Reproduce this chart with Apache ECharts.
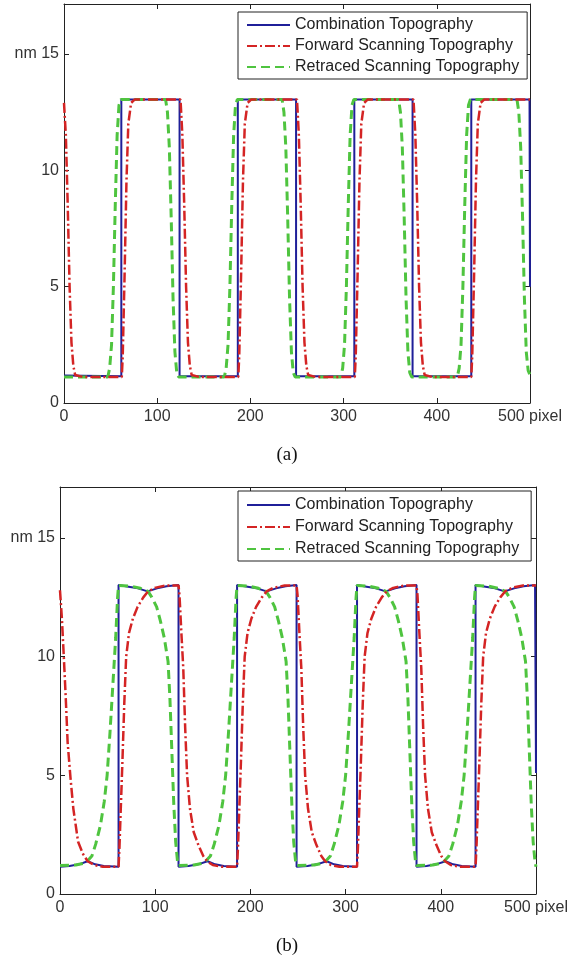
<!DOCTYPE html>
<html>
<head>
    <meta charset="utf-8">
    <title>Topography</title>
    <script src="https://cdn.jsdelivr.net/npm/echarts@6.0.0/dist/echarts.min.js"></script>
    <style>
        body { margin: 0; background: #fff; }
        #chart { width: 574px; height: 959px; }
    </style>
</head>
<body>
<div id="chart"></div>
<script type="text/javascript">
    // series names and tick labels
    var names = ['Combination Topography', 'Forward Scanning Topography', 'Retraced Scanning Topography'];
    var xTicks = [0, 100, 200, 300, 400, 500];
    var xTickText = ['0', '100', '200', '300', '400', '500 pixel'];
    var yTicks = [0, 5, 10, 15];
    var yTickText = ['0', '5', '10', 'nm 15'];

    // (a) [pixel, nm]
    var combA = [[0,1.18],[61.5,1.15],[61.5,13.05],[124,13.05],[124,1.15],[186.5,1.15],[186.5,13.05],[249,13.05],[249,1.15],
        [311.5,1.15],[311.5,13.05],[374,13.05],[374,1.15],[437,1.15],[437,13.05],[499.5,13.05],[500,5.0]];
    var fwdA = [[0,12.9],[2,11.5],[4,8.5],[6,5.0],[8,2.6],[10,1.6],[12,1.2],[20,1.12],
        [62,1.12],[63,2.0],[65,5.5],[67,9.5],[69,12.0],[72,12.9],[76,13.05],
        [125,13.05],[127,11.5],[129,8.5],[131,5.0],[133,2.6],[135,1.6],[137,1.2],[145,1.12],
        [187,1.12],[188,2.0],[190,5.5],[192,9.5],[194,12.0],[197,12.9],[201,13.05],
        [250,13.05],[252,11.5],[254,8.5],[256,5.0],[258,2.6],[260,1.6],[262,1.2],[270,1.12],
        [312,1.12],[313,2.0],[315,5.5],[317,9.5],[319,12.0],[322,12.9],[326,13.05],
        [375,13.05],[377,11.5],[379,8.5],[381,5.0],[383,2.6],[385,1.6],[387,1.2],[395,1.12],
        [437,1.12],[438,2.0],[440,5.5],[442,9.5],[444,12.0],[447,12.9],[451,13.05],[500,13.05]];
    var retA = [[0,1.12],[47,1.12],[49,1.5],[51,2.5],[53,5.0],[55,8.5],[57,11.5],[59,12.8],[61,13.05],
        [109,13.05],[111,12.5],[113,11.0],[115,8.0],[117,4.5],[119,2.2],[121,1.3],[123,1.12],
        [172,1.12],[174,1.5],[176,2.5],[178,5.0],[180,8.5],[182,11.5],[184,12.8],[186,13.05],
        [234,13.05],[236,12.5],[238,11.0],[240,8.0],[242,4.5],[244,2.2],[246,1.3],[248,1.12],
        [297,1.12],[299,1.5],[301,2.5],[303,5.0],[305,8.5],[307,11.5],[309,12.8],[311,13.05],
        [359,13.05],[361,12.5],[363,11.0],[365,8.0],[367,4.5],[369,2.2],[371,1.3],[373,1.12],
        [422,1.12],[424,1.5],[426,2.5],[428,5.0],[430,8.5],[432,11.5],[434,12.8],[436,13.05],
        [486,13.05],[488,12.5],[490,11.0],[492,8.0],[494,4.5],[496,2.2],[498,1.4],[500,1.2]];

    // (b) [pixel, nm]
    var combB = [[0,1.15],[10,1.18],[20,1.25],[29,1.38],[37,1.25],[46,1.18],[61.5,1.15],
        [61.5,13.02],[72,12.95],[82,12.88],[92,12.75],[102,12.88],[112,12.97],[124.5,13.02],
        [124.5,1.15],[135,1.18],[145,1.25],[155,1.38],[163,1.25],[172,1.18],[186,1.15],
        [186,13.02],[197,12.95],[207,12.88],[217,12.75],[227,12.88],[237,12.97],[248.5,13.02],
        [248.5,1.15],[260,1.18],[270,1.25],[280,1.38],[288,1.25],[297,1.18],[312,1.15],
        [312,13.02],[322,12.95],[332,12.88],[342,12.75],[352,12.88],[362,12.97],[374.5,13.02],
        [374.5,1.15],[385,1.18],[395,1.25],[405,1.38],[413,1.25],[422,1.18],[436.5,1.15],
        [436.5,13.02],[447,12.95],[457,12.88],[467,12.75],[477,12.88],[487,12.97],[499,13.02],[500,5.1]];
    var fwdB = [[0,12.8],[2,11.6],[4,10.0],[6,8.3],[8,6.4],[11,4.9],[14,3.6],[19,2.2],[24,1.7],[29,1.38],[36,1.22],[45,1.15],
        [61.5,1.15],[62.5,2.0],[63.5,3.2],[65.5,5.5],[67.5,8.0],[69.5,10.0],[72.5,11.0],[76.5,11.6],[81.5,12.1],[87.5,12.5],[92.5,12.75],[99.5,12.9],[111.5,13.0],
        [124.5,13.0],[125.5,12.6],[127.5,11.0],[129.5,9.5],[131.5,7.0],[133.5,5.0],[136.5,3.6],[140.5,2.6],[145.5,2.05],[150.5,1.6],[154.5,1.38],[160.5,1.22],[169.5,1.15],
        [186,1.15],[187,2.0],[188,3.2],[190,5.5],[192,8.0],[194,10.0],[197,11.0],[201,11.6],[206,12.1],[212,12.5],[217,12.75],[224,12.9],[236,13.0],
        [248.5,13.0],[249.5,12.6],[251.5,11.0],[253.5,9.5],[255.5,7.0],[257.5,5.0],[260.5,3.6],[264.5,2.6],[269.5,2.05],[274.5,1.6],[278.5,1.38],[284.5,1.22],[293.5,1.15],
        [312,1.15],[313,2.0],[314,3.2],[316,5.5],[318,8.0],[320,10.0],[323,11.0],[327,11.6],[332,12.1],[338,12.5],[343,12.75],[350,12.9],[362,13.0],
        [374.5,13.0],[375.5,12.6],[377.5,11.0],[379.5,9.5],[381.5,7.0],[383.5,5.0],[386.5,3.6],[390.5,2.6],[395.5,2.05],[400.5,1.6],[404.5,1.38],[410.5,1.22],[419.5,1.15],
        [436.5,1.15],[437.5,2.0],[438.5,3.2],[440.5,5.5],[442.5,8.0],[444.5,10.0],[447.5,11.0],[451.5,11.6],[456.5,12.1],[462.5,12.5],[467.5,12.75],[474.5,12.9],[486.5,13.0],[500,13.0]];
    var retB = [[0,1.2],[16.5,1.22],[25.5,1.3],[28.5,1.38],[33.5,1.6],[37.5,2.1],[42.5,2.9],[46.5,3.9],[49.5,5.0],[52.5,6.8],[55.5,8.8],[58.5,10.8],[60.5,12.5],[61.5,13.0],
        [74.5,12.97],[84.5,12.88],[92.5,12.75],[96.5,12.5],[101.5,12.1],[105.5,11.5],[109.5,10.8],[113.5,9.8],[115.5,8.2],[117.5,6.0],[119.5,3.8],[121.5,2.2],[123.5,1.35],[124.5,1.2],
        [141,1.22],[150,1.3],[153,1.38],[158,1.6],[162,2.1],[167,2.9],[171,3.9],[174,5.0],[177,6.8],[180,8.8],[183,10.8],[185,12.5],[186,13.0],
        [198.5,12.97],[208.5,12.88],[216.5,12.75],[220.5,12.5],[225.5,12.1],[229.5,11.5],[233.5,10.8],[237.5,9.8],[239.5,8.2],[241.5,6.0],[243.5,3.8],[245.5,2.2],[247.5,1.35],[248.5,1.2],
        [267,1.22],[276,1.3],[279,1.38],[284,1.6],[288,2.1],[293,2.9],[297,3.9],[300,5.0],[303,6.8],[306,8.8],[309,10.8],[311,12.5],[312,13.0],
        [324.5,12.97],[334.5,12.88],[342.5,12.75],[346.5,12.5],[351.5,12.1],[355.5,11.5],[359.5,10.8],[363.5,9.8],[365.5,8.2],[367.5,6.0],[369.5,3.8],[371.5,2.2],[373.5,1.35],[374.5,1.2],
        [391.5,1.22],[400.5,1.3],[403.5,1.38],[408.5,1.6],[412.5,2.1],[417.5,2.9],[421.5,3.9],[424.5,5.0],[427.5,6.8],[430.5,8.8],[433.5,10.8],[435.5,12.5],[436.5,13.0],
        [450,12.97],[460,12.88],[468,12.75],[472,12.5],[477,12.1],[481,11.5],[485,10.8],[489,9.8],[491,8.2],[493,6.0],[495,3.8],[497,2.2],[499,1.35],[500,1.15]];

    var font = '"Liberation Sans", Arial, sans-serif';
    var styles = [
        {color: '#1f1f99', width: 2, type: 'solid', z: 2},
        {color: '#d42424', width: 2.5, type: [10, 3, 2, 3], z: 4},
        {color: '#4fc43f', width: 3, type: [9, 5], z: 3}
    ];

    function xAx(grid, pos) {
        return {
            type: 'value', gridIndex: grid, position: pos, min: 0, max: 500, interval: 100,
            axisLine: {show: true, onZero: false, lineStyle: {color: '#222', width: 1}},
            axisTick: {show: true, inside: true, length: 5, lineStyle: {color: '#222'}},
            axisLabel: {
                show: pos === 'bottom', margin: 6, color: '#333', fontSize: 16, fontFamily: font,
                formatter: function (v) { var i = xTicks.indexOf(v); return i < 0 ? '' : xTickText[i]; }
            },
            splitLine: {show: false}
        };
    }
    function yAx(grid, pos) {
        return {
            type: 'value', gridIndex: grid, position: pos, min: 0, max: 17.15, interval: 5,
            axisLine: {show: true, onZero: false, lineStyle: {color: '#222', width: 1}},
            axisTick: {show: true, inside: true, length: 5, lineStyle: {color: '#222'}},
            axisLabel: {
                show: pos === 'left', margin: 5, color: '#333', fontSize: 16, fontFamily: font,
                formatter: function (v) { var i = yTicks.indexOf(v); return i < 0 ? '' : yTickText[i]; }
            },
            splitLine: {show: false}
        };
    }
    function line(k, data, ax) {
        return {
            name: names[k], type: 'line', data: data, xAxisIndex: ax, yAxisIndex: ax,
            symbol: 'none', z: styles[k].z, animation: false,
            lineStyle: {color: styles[k].color, width: styles[k].width, type: styles[k].type},
            itemStyle: {color: styles[k].color}
        };
    }
    function legend(top, pad, gap) {
        return {
            orient: 'vertical', left: 238, top: top, data: names,
            padding: pad, itemGap: gap, itemWidth: 43, itemHeight: 14,
            backgroundColor: '#fff', borderColor: '#222', borderWidth: 1, borderRadius: 0,
            // hide the marker dot, keep only the line sample
            itemStyle: {opacity: 0},
            textStyle: {color: '#222', fontSize: 16, fontFamily: font, lineHeight: 18},
            selectedMode: false
        };
    }

    var myChart = echarts.init(document.getElementById('chart'));
    myChart.setOption({
        animation: false,
        backgroundColor: '#fff',
        grid: [
            {left: 64, top: 4, width: 466, height: 399},
            {left: 60, top: 487, width: 476, height: 407}
        ],
        xAxis: [xAx(0, 'bottom'), xAx(0, 'top'), xAx(1, 'bottom'), xAx(1, 'top')],
        yAxis: [yAx(0, 'left'), yAx(0, 'right'), yAx(1, 'left'), yAx(1, 'right')],
        legend: [legend(12, [4, 8, 3, 8], 3), legend(491, [5, 12, 3, 8], 4)],
        graphic: [
            {type: 'text', x: 287, y: 455, style: {text: '(a)', textAlign: 'center', textVerticalAlign: 'middle', font: '19px "Liberation Serif", serif', fill: '#111'}},
            {type: 'text', x: 287, y: 946, style: {text: '(b)', textAlign: 'center', textVerticalAlign: 'middle', font: '19px "Liberation Serif", serif', fill: '#111'}}
        ],
        series: [
            line(0, combA, 0), line(1, fwdA, 0), line(2, retA, 0),
            line(0, combB, 2), line(1, fwdB, 2), line(2, retB, 2)
        ]
    });
</script>
</body>
</html>
